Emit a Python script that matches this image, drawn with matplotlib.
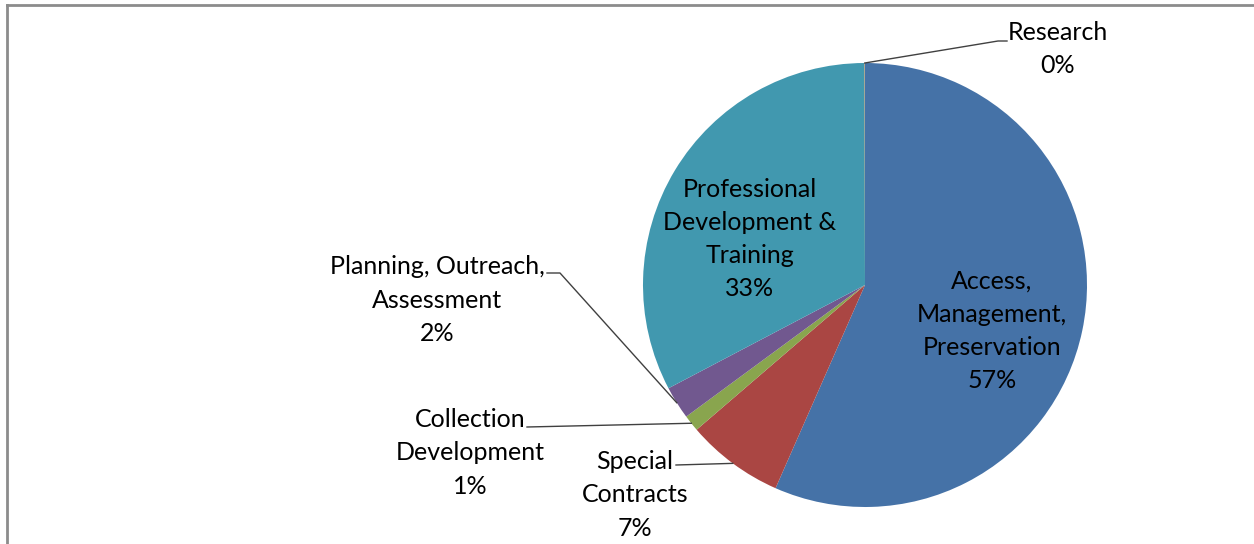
import numpy as np
import matplotlib.pyplot as plt
from matplotlib.lines import Line2D

# Daten (Anteile in %)
kategorien = ["Access,\nManagement,\nPreservation", "Special\nContracts",
              "Collection\nDevelopment", "Planning, Outreach,\nAssessment",
              "Professional\nDevelopment &\nTraining", "Research"]
anteile = [56.6, 7.1, 1.2, 2.4, 32.67, 0.03]
farben = ["#4572A7", "#AA4643", "#89A54E", "#71588F", "#4198AF", "#DB843D"]

W, H = 1254, 544
cx, cy, r = 865, 285, 222

plt.rcParams['font.family'] = ['Lato', 'DejaVu Sans']
fig = plt.figure(figsize=(W / 100, H / 100), dpi=100)
ax = fig.add_axes([(cx - r) / W, (H - cy - r) / H, 2 * r / W, 2 * r / H])

wedges, _ = ax.pie(anteile, colors=farben, startangle=90, counterclock=False,
                   wedgeprops=dict(linewidth=0))
ax.set_xlim(-1, 1)
ax.set_ylim(-1, 1)
ax.axis('off')


def pos(px, py):
    # Pixel im Bild -> Datenkoordinaten des Kreises
    return ((px - cx) / r, (cy - py) / r)


def rand(w, rr=1.0):
    a = np.deg2rad((w.theta1 + w.theta2) / 2)
    return (rr * np.cos(a), rr * np.sin(a))


def label(i):
    return kategorien[i] + "\n" + str(int(round(anteile[i]))) + "%"


fs = 18
ls = 1.53
# Beschriftungen innen
ax.text(*pos(992, 331), label(0), ha='center', va='center', fontsize=fs, linespacing=ls)
ax.text(*pos(750, 239), label(4), ha='center', va='center', fontsize=fs, linespacing=ls)

# Beschriftungen aussen mit Fuehrungslinien
aussen = [
    (5, (1058, 49), [(1007, 41), (998, 41)]),
    (3, (437, 300), [(547, 273), (560, 273)]),
    (2, (470, 453), [(527, 427)]),
    (1, (635, 495), [(676, 465)]),
]
for i, tpos, knick in aussen:
    ax.text(*pos(*tpos), label(i), ha='center', va='center', fontsize=fs, linespacing=ls)
    pts = [pos(*p) for p in knick] + [rand(wedges[i])]
    xs, ys = zip(*pts)
    ax.plot(xs, ys, color="#404040", lw=1, clip_on=False)

# Rahmen
fig.add_artist(Line2D([7 / W, 7 / W], [0, 1 - 5 / H], color="#8c8c8c", lw=2))
fig.add_artist(Line2D([7 / W, 1], [1 - 5 / H, 1 - 5 / H], color="#8c8c8c", lw=2))

fig.savefig("out.png", dpi=100)
